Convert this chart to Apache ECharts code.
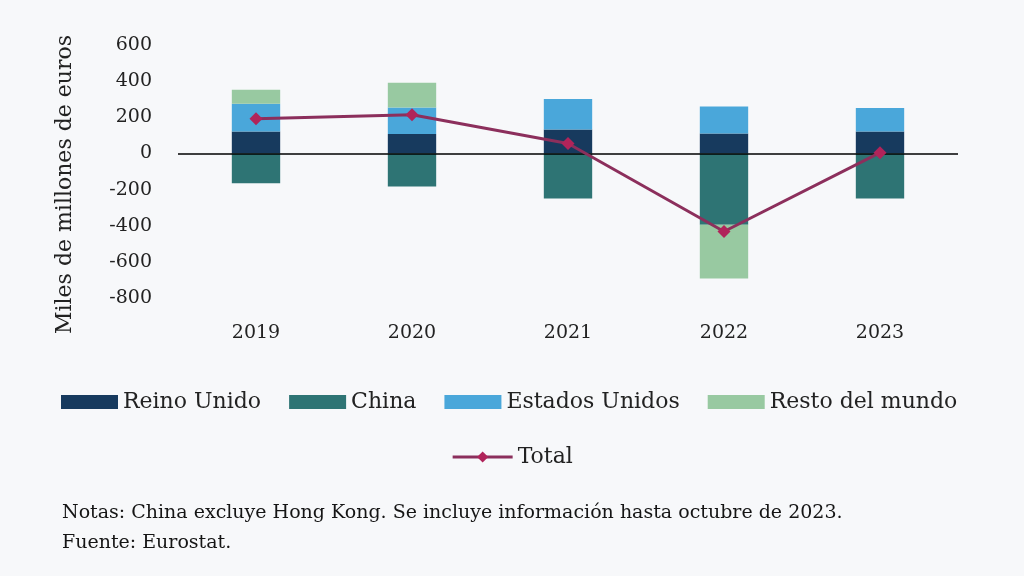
<!DOCTYPE html>
<html>
<head>
<meta charset="utf-8">
<script src="https://cdn.jsdelivr.net/npm/echarts@6/dist/echarts.min.js"></script>
<style>
html,body{margin:0;padding:0;background:#f7f8fa;}
#c{width:1024px;height:576px;}
</style>
</head>
<body>
<div id="c"></div>
<script>
const categories = ['2019', '2020', '2021', '2022', '2023'];
const reinoUnido = [121, 108, 132, 110, 122];
const china = [-165, -183, -249, -394, -249];
const estadosUnidos = [154, 146, 169, 150, 129];
const restoMundo = [77, 137, null, -298, null];
const total = [192, 214, 55, -432, 4];

const FONT = 'DejaVu Serif';
const chart = echarts.init(document.getElementById('c'));
chart.setOption({
  backgroundColor: '#f7f8fa',
  animation: false,
  textStyle: { fontFamily: FONT },
  grid: { left: 178, right: 66, top: 45, bottom: 278 },
  legend: [
    {
      data: ['Reino Unido', 'China', 'Estados Unidos', 'Resto del mundo'],
      top: 386, left: 56,
      icon: 'rect',
      itemWidth: 57, itemHeight: 14, itemGap: 28,
      textStyle: { fontFamily: FONT, fontSize: 22, color: '#222' }
    },
    {
      data: ['Total'],
      top: 441, left: 'center',
      itemWidth: 60, itemHeight: 14,
      lineStyle: { width: 3 },
      textStyle: { fontFamily: FONT, fontSize: 22, color: '#222' }
    }
  ],
  xAxis: {
    type: 'category',
    data: categories,
    axisLine: { show: false },
    axisTick: { show: false },
    axisLabel: { margin: 26, fontSize: 19, color: '#222', fontFamily: FONT }
  },
  yAxis: {
    type: 'value',
    min: -800, max: 600, interval: 200,
    name: 'Miles de millones de euros',
    nameLocation: 'middle',
    nameGap: 102,
    nameTextStyle: { fontSize: 22, color: '#222', fontFamily: FONT, padding: [0, 26, 0, 0] },
    axisLine: { show: false },
    axisTick: { show: false },
    splitLine: { show: false },
    axisLabel: { margin: 26, fontSize: 19, color: '#222', fontFamily: FONT }
  },
  series: [
    { name: 'Reino Unido', type: 'bar', stack: 's', data: reinoUnido, barWidth: '31%', itemStyle: { color: '#173a5e' } },
    { name: 'China', type: 'bar', stack: 's', data: china, itemStyle: { color: '#2e7474' } },
    { name: 'Estados Unidos', type: 'bar', stack: 's', data: estadosUnidos, itemStyle: { color: '#4aa7da' } },
    { name: 'Resto del mundo', type: 'bar', stack: 's', data: restoMundo, itemStyle: { color: '#98c9a1' },
      markLine: {
        silent: true, symbol: 'none', label: { show: false },
        lineStyle: { color: '#000', width: 1.5, type: 'solid' },
        data: [{ yAxis: 0 }]
      }
    },
    { name: 'Total', type: 'line', data: total, z: 5,
      symbol: 'diamond', symbolSize: 13,
      lineStyle: { color: '#8c2f5c', width: 3 },
      itemStyle: { color: '#b0245a' } }
  ],
  graphic: [
    { type: 'text', left: 62, top: 504, style: { text: 'Notas: China excluye Hong Kong. Se incluye información hasta octubre de 2023.', font: '19px "DejaVu Serif"', fill: '#151515' } },
    { type: 'text', left: 62, top: 534, style: { text: 'Fuente: Eurostat.', font: '19px "DejaVu Serif"', fill: '#151515' } }
  ]
});
</script>
</body>
</html>
